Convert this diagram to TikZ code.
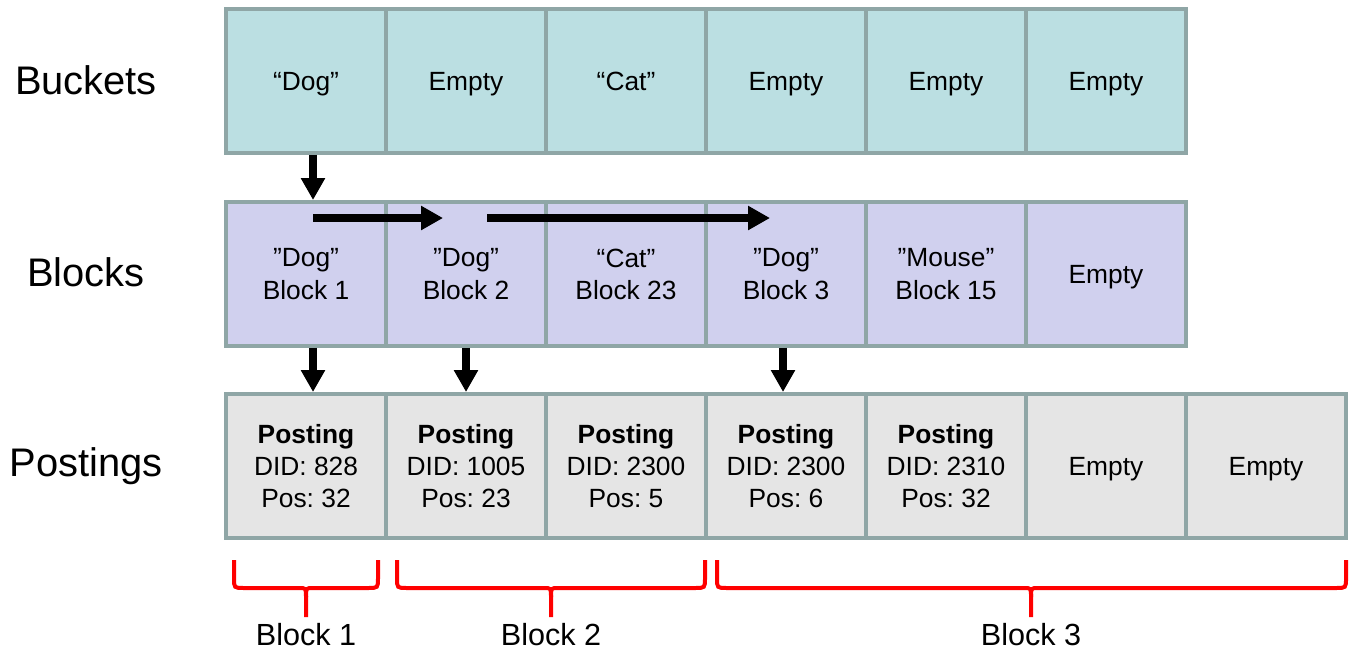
\documentclass[tikz,border=0pt]{standalone}
\usepackage{fontspec}
\setmainfont{Liberation Sans}
\usetikzlibrary{arrows.meta}
\definecolor{cellline}{RGB}{143,166,166}
\definecolor{bucketfill}{RGB}{187,223,226}
\definecolor{blockfill}{RGB}{208,208,238}
\definecolor{postfill}{RGB}{229,229,229}
\frenchspacing
\begin{document}
\begin{tikzpicture}[x=0.02cm,y=-0.02cm,
	cell/.style={draw=cellline,line width=0.08cm,minimum width=3.2cm,minimum height=2.88cm,inner sep=0,text depth=-2pt,align=center,font=\fontsize{15}{18.4}\selectfont},
	rowname/.style={font=\fontsize{22.7}{26}\selectfont},
	arr/.style={line width=0.16cm,-{Triangle[width=0.46cm,length=0.44cm]}},
	brace/.style={red,line width=0.08cm}]
	\useasboundingbox (0,0) rectangle (1352,652);
	\node[rowname] (nbuckets) at (86,80){Buckets};
	\node[rowname] (nblocks) at (86,272){Blocks};
	\node[rowname] (npostings) at (86,466){Postings};
	% three rows of cells
	\foreach \i/\t in {1/“Dog”,2/Empty,3/“Cat”,4/Empty,5/Empty,6/Empty}
		\node[cell,fill=bucketfill] (b\i) at (146+160*\i,81){\t};
	\foreach \i/\t in {1/{”Dog”\\Block 1},2/{”Dog”\\Block 2},3/{“Cat”\\Block 23},4/{”Dog”\\Block 3},5/{”Mouse”\\Block 15},6/Empty}
		\node[cell,fill=blockfill] (k\i) at (146+160*\i,274){\t};
	\foreach \i/\t in {1/{\textbf{Posting}\\DID: 828\\Pos: 32},2/{\textbf{Posting}\\DID: 1005\\Pos: 23},3/{\textbf{Posting}\\DID: 2300\\Pos: 5},4/{\textbf{Posting}\\DID: 2300\\Pos: 6},5/{\textbf{Posting}\\DID: 2310\\Pos: 32},6/Empty,7/Empty}
		\node[cell,fill=postfill] (p\i) at (146+160*\i,466){\t};
	% links
	\draw[arr] ([xshift=0.14cm]b1.south)--([xshift=0.14cm]k1.north);
	\draw[arr] ([xshift=0.14cm,yshift=-0.36cm]k1.north)--([xshift=-0.46cm,yshift=-0.36cm]k2.north);
	\draw[arr] ([xshift=0.42cm,yshift=-0.36cm]k2.north)--([xshift=-0.32cm,yshift=-0.36cm]k4.north);
	\draw[arr] ([xshift=0.14cm]k1.south)--([xshift=0.14cm]p1.north);
	\draw[arr] (k2.south)--(p2.north);
	\draw[arr] ([xshift=-0.06cm]k4.south)--([xshift=-0.06cm]p4.north);
	% braces under the postings
	\foreach \a/\m/\b/\t [count=\i] in {234/306/378/Block 1,397/551/705/Block 2,717/1031/1346/Block 3}{
		\draw[brace] (\a,560)--(\a,578) .. controls (\a,588) .. ({\a+10},588)--({\m-7},588) .. controls (\m,588) .. (\m,597)--(\m,617);
		\draw[brace] (\m,597) .. controls (\m,588) .. ({\m+7},588)--({\b-10},588) .. controls (\b,588) .. (\b,578)--(\b,560);
		\node[font=\fontsize{17.4}{20}\selectfont] (blk\i) at (\m,635){\t};
	}
\end{tikzpicture}
\end{document}
